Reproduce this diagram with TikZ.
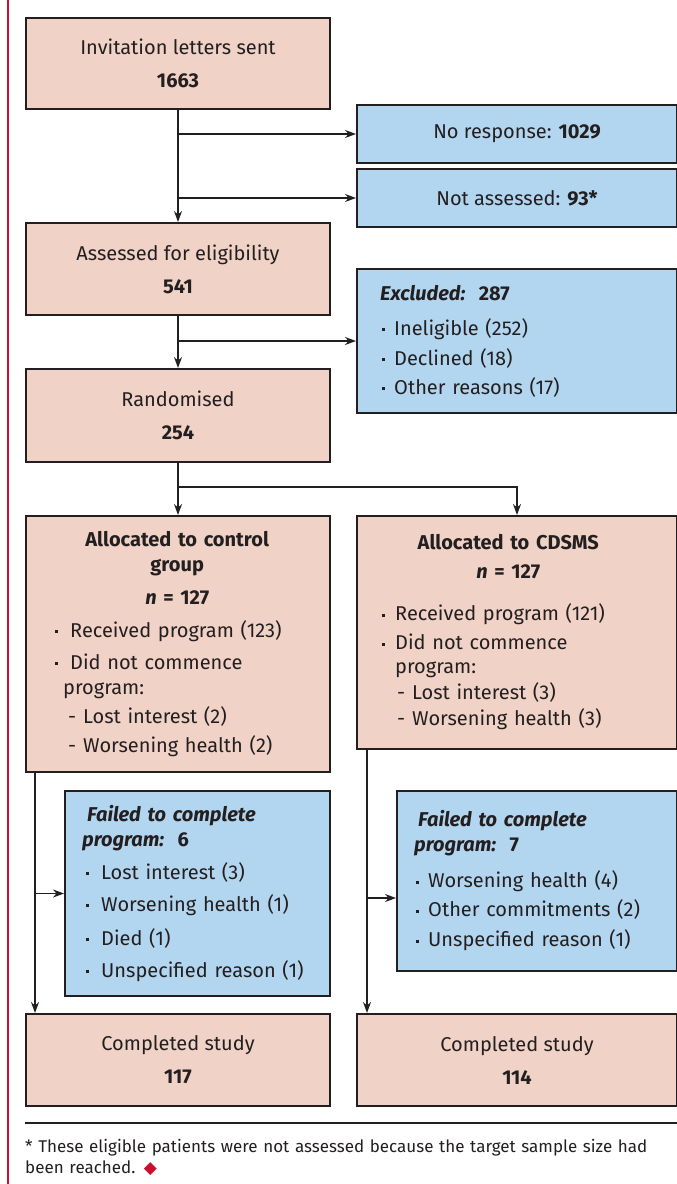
\documentclass[tikz,border=0pt]{standalone}
\usepackage{fontspec}
\setmainfont{Fira Sans}
\newfontfamily\symfont{DejaVu Sans}
\usetikzlibrary{arrows.meta,positioning,calc}
\definecolor{boxpink}{RGB}{240,210,198}
\definecolor{boxblue}{RGB}{179,214,240}
\definecolor{ink}{RGB}{35,31,32}
\definecolor{mjared}{RGB}{200,16,46}
\newcommand{\bul}[1][14pt]{\makebox[#1][l]{\rule[0.22em]{3pt}{3pt}}}
\newcommand{\dsh}{\makebox[15pt][l]{-}}
\setlength{\parindent}{0pt}

\begin{document}
\begin{tikzpicture}[x=1pt,y=-1pt,
  b/.style={draw=ink,line width=2pt,inner sep=0pt,anchor=north west,text=ink,align=center,
    font=\fontsize{20}{33}\selectfont},
  bp/.style={b,fill=boxpink},
  bb/.style={b,fill=boxblue},
  txt/.style={anchor=west,inner sep=0pt,text=ink,align=left,font=\fontsize{20}{25}\selectfont},
  ar/.style={-{Stealth[length=11pt,width=8pt]},line width=1.5pt,draw=ink}]
\useasboundingbox (0,0) rectangle (677,1184);
\draw[mjared,line width=2.5pt] (8,0) -- (8,1184);

% top of the flow
\node[bp,minimum width=304pt,minimum height=91pt] (inv) at (25,17) {Invitation letters sent\\\textbf{1663}};
\node[bb,minimum width=320pt,minimum height=58pt] (nores) at (356,104) {No response: \textbf{1029}};
\node[bb,minimum width=320pt,minimum height=58pt] (notass) at (356,168) {Not assessed: \textbf{93*}};
\node[bp,minimum width=304pt,minimum height=92pt] (asse) at (25,222) {Assessed for eligibility\\\textbf{541}};
\node[bb,minimum width=320pt,minimum height=144pt] (excl) at (356,268) {};
\node[txt,text width=280pt] (exclT) at ([xshift=24pt]excl.west) {%
  \textbf{\textit{Excluded:}}\ \ \textbf{287}\\[10pt]
  \hspace*{2pt}\bul[12pt]Ineligible (252)\\[5pt]
  \hspace*{2pt}\bul[12pt]Declined (18)\\[4pt]
  \hspace*{2pt}\bul[12pt]Other reasons (17)};
\node[bp,minimum width=304pt,minimum height=93pt] (rand) at (25,368) {Randomised\\\textbf{254}};

% the two arms
\node[bp,minimum width=304pt,minimum height=256pt] (ctrl) at (25,515) {};
\node[txt,text width=244pt] (ctrlT) at ([xshift=30pt]ctrl.west) {%
  {\centering\bfseries Allocated to control\\group\\[8pt]\textit{n} = 127\par}\vspace{8pt}
  \bul[15pt]Received program (123)\\[7pt]
  \bul[15pt]Did not commence\\
  \hspace*{8pt}program:\\[4pt]
  \hspace*{13pt}\dsh Lost interest (2)\\[4pt]
  \hspace*{13pt}\dsh Worsening health (2)};
\node[bp,minimum width=320pt,minimum height=233pt] (cdsms) at (356,515) {};
\node[txt,text width=252pt] (cdsmsT) at ([xshift=26pt]cdsms.west) {%
  {\centering\bfseries Allocated to CDSMS\\[4pt]\textit{n} = 127\par}\vspace{17pt}
  \bul[13pt]Received program (121)\\[4pt]
  \bul[13pt]Did not commence\\[-1pt]
  \hspace*{13pt}program:\\[1pt]
  \hspace*{15pt}\dsh Lost interest (3)\\[1pt]
  \hspace*{15pt}\dsh Worsening health (3)};
\node[bb,minimum width=265pt,minimum height=205pt] (fail1) at (64,790) {};
\node[txt,text width=240pt] (fail1T) at ([xshift=18pt]fail1.west) {%
  \hspace*{5pt}\textbf{\textit{Failed to complete}}\\
  \textbf{\textit{program:}}\ \ \textbf{6}\\[8pt]
  \hspace*{4pt}\bul[15pt]Lost interest (3)\\[7pt]
  \hspace*{4pt}\bul[15pt]Worsening health (1)\\[9pt]
  \hspace*{4pt}\bul[15pt]Died (1)\\[7pt]
  \hspace*{4pt}\bul[15pt]Unspecified reason (1)};
\node[bb,minimum width=280pt,minimum height=180pt] (fail2) at (396,790) {};
\node[txt,text width=250pt] (fail2T) at ([xshift=18pt]fail2.west) {%
  \hspace*{4pt}\textbf{\textit{Failed to complete}}\\
  \textbf{\textit{program:}}\ \ \textbf{7}\\[11pt]
  \hspace*{2pt}\bul[12pt]Worsening health (4)\\[4pt]
  \hspace*{2pt}\bul[12pt]Other commitments (2)\\[5pt]
  \hspace*{2pt}\bul[12pt]Unspecified reason (1)};
\node[bp,minimum width=304pt,minimum height=92pt] (comp1) at (25,1013) {Completed study\\\textbf{117}};
\node[bp,minimum width=320pt,minimum height=92pt] (comp2) at (356,1013) {Completed study\\\textbf{114}};

% connectors
\draw[ar] (inv.south) -- (asse.north);
\draw[ar] (inv.south |- nores.west) -- (nores.west);
\draw[ar] (inv.south |- notass.west) -- (notass.west);
\draw[ar] (asse.south) -- (rand.north);
\draw[ar] (asse.south |- excl.west) -- (excl.west);
\draw[line width=1.5pt,ink] (rand.south) -- ++(0,24) coordinate (split);
\draw[ar] (split) -- (ctrl.north);
\draw[ar] (split) -| (cdsms.north);
\draw[ar] ([xshift=10pt]ctrl.south west) -- ([xshift=10pt]comp1.north west);
\draw[ar] ([xshift=10pt]ctrl.south west |- fail1.west) -- (fail1.west);
\draw[ar] ([xshift=11pt]cdsms.south west) -- ([xshift=11pt]comp2.north west);
\draw[ar] ([xshift=11pt,yshift=-17pt]cdsms.south west |- fail2.west) -- ([yshift=-17pt]fail2.west);

% footnote
\draw[ink,line width=2pt] (25,1123) -- (677,1123);
\node[txt,text width=700pt,font=\fontsize{17}{21}\selectfont] (note) at (25,1157) {%
  * These eligible patients were not assessed because the target sample size had\\
  been reached. {\symfont\color{mjared}◆}};
\end{tikzpicture}
\end{document}
